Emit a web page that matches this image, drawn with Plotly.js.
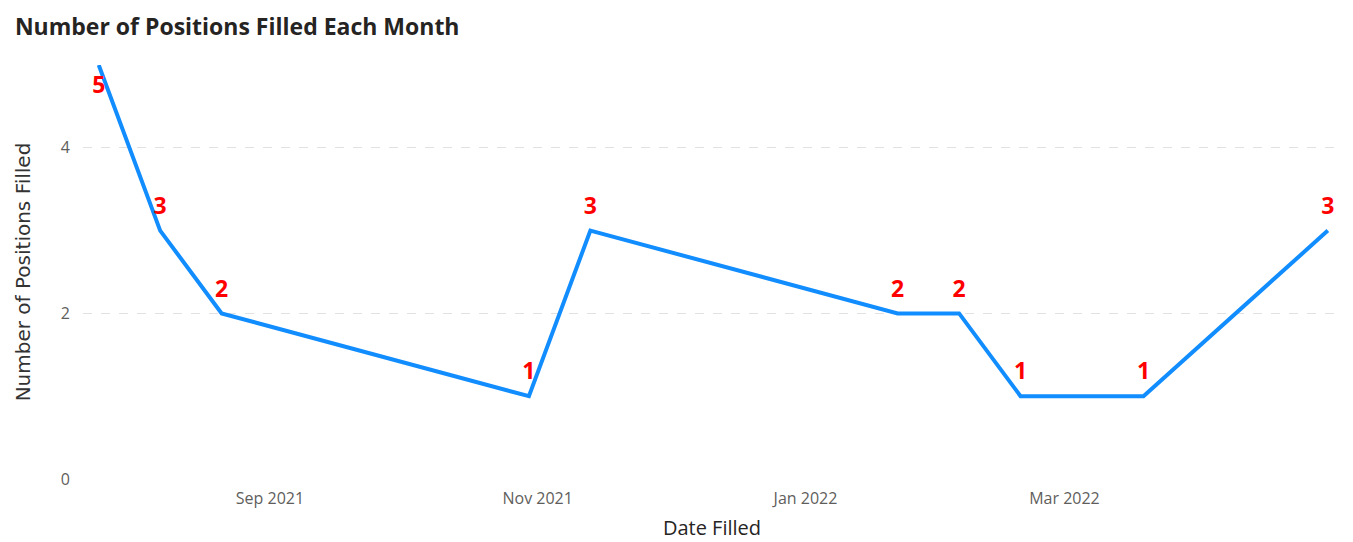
<!DOCTYPE html>
<html>
<head>
<meta charset="utf-8">
<script src="https://cdn.plot.ly/plotly-3.0.1.min.js"></script>
<style>html,body{margin:0;padding:0;background:#fff;}#chart{width:1353px;height:542px;}</style>
</head>
<body>
<div id="chart"></div>
<script>
const dates = ['2021-07-24','2021-08-07','2021-08-21','2021-10-30','2021-11-13','2022-01-22','2022-02-05','2022-02-19','2022-03-19','2022-04-30'];
const positionsFilled = [5,3,2,1,3,2,2,1,1,3];
const tickDates = ['2021-09-01','2021-11-01','2022-01-01','2022-03-01'];
const tickLabels = ['Sep 2021','Nov 2021','Jan 2022','Mar 2022'];
const yTicks = [0,2,4];

const textPos = positionsFilled.map((v,i)=> i===0 ? 'bottom center' : 'top center');

const trace = {
  x: dates,
  y: positionsFilled,
  type: 'scatter',
  mode: 'lines+markers+text',
  line: {color:'#118DFF', width:4},
  marker: {size:16, opacity:0, color:'#118DFF'},
  text: positionsFilled.map(String),
  textposition: textPos,
  textfont: {family:'Open Sans, sans-serif', size:23, color:'#FF0000', weight:'bold'},
  cliponaxis: false,
  hoverinfo: 'x+y'
};

const layout = {
  width:1353, height:542,
  margin:{l:83, r:12, t:65, b:63},
  paper_bgcolor:'#fff', plot_bgcolor:'#fff',
  showlegend:false,
  title:{text:'Number of Positions Filled Each Month', x:0.011, xanchor:'left', y:0.95, yanchor:'middle',
    font:{family:'Open Sans, sans-serif', size:23, color:'#252423', weight:'bold'}},
  xaxis:{
    type:'date',
    range:['2021-07-20 10:00','2022-05-03'],
    tickmode:'array', tickvals:tickDates, ticktext:tickLabels,
    showgrid:false, zeroline:false, showline:false, ticks:'',
    ticklabelstandoff:8,
    tickfont:{family:'Open Sans, sans-serif', size:16, color:'#605E5C'},
    title:{text:'Date Filled', font:{family:'Open Sans, sans-serif', size:20, color:'#252423'}, standoff:12}
  },
  yaxis:{
    range:[0,5],
    tickmode:'array', tickvals:yTicks,
    showgrid:true, gridcolor:'#E1E1E1', griddash:'dash', gridwidth:1,
    zeroline:false, showline:false, ticks:'',
    ticklabelstandoff:12,
    tickfont:{family:'Open Sans, sans-serif', size:16, color:'#605E5C'},
    title:{text:'Number of Positions Filled', font:{family:'DejaVu Sans, sans-serif', size:20, color:'#333333'}, standoff:24}
  }
};

Plotly.newPlot('chart',[trace],layout,{displayModeBar:false, staticPlot:true});
</script>
</body>
</html>
